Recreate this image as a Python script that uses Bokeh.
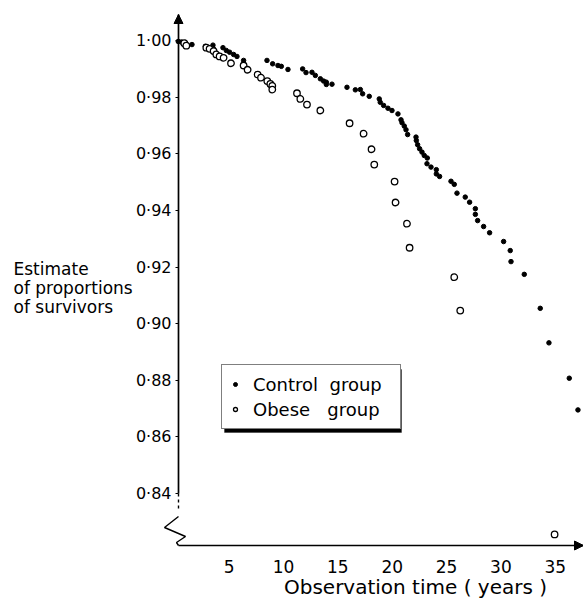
from bokeh.plotting import figure
from bokeh.models import (Range1d, LinearAxis, FixedTicker, Legend, LegendItem,
                          Arrow, NormalHead, Label, BoxAnnotation)
from bokeh.embed import file_html
from bokeh.resources import INLINE

# ---------------- data ----------------
control_years = [0.32, 0.60, 0.97, 1.58, 2.81, 3.51, 3.54, 4.43, 4.74, 5.04,
                 5.41, 5.72, 6.33, 8.48, 9.00, 9.49, 9.80, 10.41, 11.76, 12.07,
                 12.62, 12.93, 13.39, 13.69, 13.94, 13.94, 14.46, 15.84, 16.61, 17.07,
                 17.28, 17.89, 18.81, 18.90, 19.21, 19.61, 19.98, 20.53, 20.81, 20.90,
                 21.11, 21.27, 21.42, 22.19, 22.22, 22.34, 22.52, 22.74, 22.95, 23.23,
                 23.20, 23.57, 24.06, 24.06, 24.36, 25.41, 25.71, 25.96, 26.72, 27.12,
                 27.65, 27.65, 27.86, 28.41, 28.96, 30.25, 30.86, 30.93, 32.15, 33.62,
                 34.42, 36.29, 37.09]
control_surv = [0.9997, 0.9995, 0.9993, 0.9986, 0.9980, 0.9984, 0.9972, 0.9975, 0.9965, 0.9959,
                0.9951, 0.9944, 0.9930, 0.9930, 0.9918, 0.9912, 0.9909, 0.9898, 0.9900, 0.9887,
                0.9888, 0.9877, 0.9865, 0.9857, 0.9853, 0.9845, 0.9846, 0.9835, 0.9826, 0.9827,
                0.9812, 0.9803, 0.9794, 0.9782, 0.9771, 0.9761, 0.9753, 0.9741, 0.9720, 0.9710,
                0.9698, 0.9685, 0.9668, 0.9659, 0.9647, 0.9632, 0.9618, 0.9606, 0.9594, 0.9585,
                0.9565, 0.9553, 0.9544, 0.9529, 0.9520, 0.9503, 0.9492, 0.9461, 0.9447, 0.9429,
                0.9406, 0.9386, 0.9364, 0.9343, 0.9321, 0.9290, 0.9258, 0.9219, 0.9174, 0.9054,
                0.8932, 0.8807, 0.8695]

obese_years = [0.87, 1.06, 2.90, 3.20, 3.57, 3.82, 4.12, 4.49, 5.17, 6.33,
               6.70, 7.62, 7.93, 8.51, 8.79, 8.97, 8.97, 11.24, 11.55, 12.16,
               13.39, 16.08, 17.37, 18.10, 18.35, 20.22, 20.31, 21.36, 21.60, 25.71,
               26.26, 34.94]
obese_surv = [0.9991, 0.9982, 0.9975, 0.9971, 0.9963, 0.9951, 0.9944, 0.9939, 0.9920, 0.9912,
              0.9897, 0.9880, 0.9869, 0.9857, 0.9847, 0.9840, 0.9827, 0.9814, 0.9794, 0.9774,
              0.9753, 0.9708, 0.9671, 0.9616, 0.9562, 0.9502, 0.9428, 0.9353, 0.9268, 0.9164,
              0.9046, 0.8255]

y_ticks = [0.84, 0.86, 0.88, 0.90, 0.92, 0.94, 0.96, 0.98, 1.00]
y_tick_labels = ["0\u00b784", "0\u00b786", "0\u00b788", "0\u00b790", "0\u00b792",
                 "0\u00b794", "0\u00b796", "0\u00b798", "1\u00b700"]
x_ticks = [5, 10, 15, 20, 25, 30, 35]

series_names = ["Control\u00a0\u00a0group", "Obese\u00a0\u00a0\u00a0group"]
x_title = "Observation time ( years )"
y_title_lines = ["Estimate", "of proportions", "of survivors"]

# ---------------- layout ----------------
FONT = "DejaVu Sans"
W, H = 583, 603

# canvas-pixel -> data helpers, used only for decorations and text placement
def fx(px):
    return (px - 174.3) / 10.87

def fy(py):
    return 1.0 - (py - 40.1) / 2830.0

X0 = fx(178)      # position of the vertical axis
XEND = fx(583)    # tip of the horizontal arrow
Y0 = fy(545)      # position of the horizontal axis
YTOP = fy(14)     # tip of the vertical arrow

p = figure(width=W, height=H, x_range=Range1d(fx(0), fx(W)), y_range=Range1d(fy(H), fy(0)),
           output_backend="svg", toolbar_location=None,
           x_axis_type=None, y_axis_type=None,
           min_border_left=0, min_border_right=0, min_border_top=0, min_border_bottom=0)
p.outline_line_color = None
p.background_fill_color = "white"
p.border_fill_color = "white"

yaxis = LinearAxis(ticker=FixedTicker(ticks=y_ticks), fixed_location=X0, bounds=(0.84, YTOP),
                   major_label_overrides={t: l for t, l in zip(y_ticks, y_tick_labels)},
                   axis_line_color="black", axis_line_width=1.7,
                   major_tick_out=3, major_tick_in=0, major_tick_line_width=1.2,
                   minor_tick_out=0, minor_tick_in=0,
                   major_label_standoff=4, major_label_text_font=FONT,
                   major_label_text_font_size="16px", major_label_text_color="black")
p.add_layout(yaxis, "left")

xaxis = LinearAxis(ticker=FixedTicker(ticks=x_ticks), fixed_location=Y0, bounds=(X0, XEND),
                   axis_line_color="black", axis_line_width=1.7,
                   major_tick_out=0, major_tick_in=0, minor_tick_out=0, minor_tick_in=0,
                   major_label_standoff=14, major_label_text_font=FONT,
                   major_label_text_font_size="17px", major_label_text_color="black")
p.add_layout(xaxis, "below")

# arrow heads at the ends of both axes
p.add_layout(Arrow(end=NormalHead(size=9, fill_color="black", line_color="black"),
                   x_start=X0, y_start=fy(24), x_end=X0, y_end=YTOP, line_alpha=0))
p.add_layout(Arrow(end=NormalHead(size=9, fill_color="black", line_color="black"),
                   x_start=fx(570), y_start=Y0, x_end=XEND, y_end=Y0, line_alpha=0))

# dashed continuation below 0.84 and the axis-break zigzag
p.line([X0, X0], [0.84, fy(510)], line_color="black", line_width=1.4, line_dash="3 3")
zz_px = [178, 164, 185, 176, 178]
zz_py = [516, 527, 536, 542, 545]
p.line([fx(v) for v in zz_px], [fy(v) for v in zz_py], line_color="black", line_width=1.4)

# data
r1 = p.scatter(control_years, control_surv, marker="circle", size=4.5,
               fill_color="black", line_color="black")
r2 = p.scatter(obese_years, obese_surv, marker="circle", size=6.5,
               fill_color="white", line_color="black", line_width=1.3)

# legend with drop shadow
p.add_layout(BoxAnnotation(left=fx(224), right=fx(401), top=fy(369), bottom=fy(432),
                           fill_color="black", fill_alpha=1, line_color="black"))
legend = Legend(items=[LegendItem(label=series_names[0], renderers=[r1]),
                       LegendItem(label=series_names[1], renderers=[r2])],
                location=(221, H - 429), orientation="vertical",
                border_line_color="black", border_line_width=1.2,
                background_fill_color="white", background_fill_alpha=1,
                label_text_font=FONT, label_text_font_size="18px",
                label_text_color="black",
                glyph_width=10, glyph_height=22, label_standoff=13,
                padding=8, spacing=3, margin=0, label_width=139, label_height=22)
p.add_layout(legend, "center")

# titles
p.add_layout(Label(x=fx(415), y=fy(586), text=x_title, text_align="center",
                   text_baseline="middle", text_font=FONT, text_font_size="20px",
                   text_color="black"))
for line, py in zip(y_title_lines, [268, 287, 306]):
    p.add_layout(Label(x=fx(13), y=fy(py), text=line, text_align="left",
                       text_baseline="middle", text_font=FONT, text_font_size="17px",
                       text_color="black"))

open("out.html", "w").write(file_html(p, INLINE))
